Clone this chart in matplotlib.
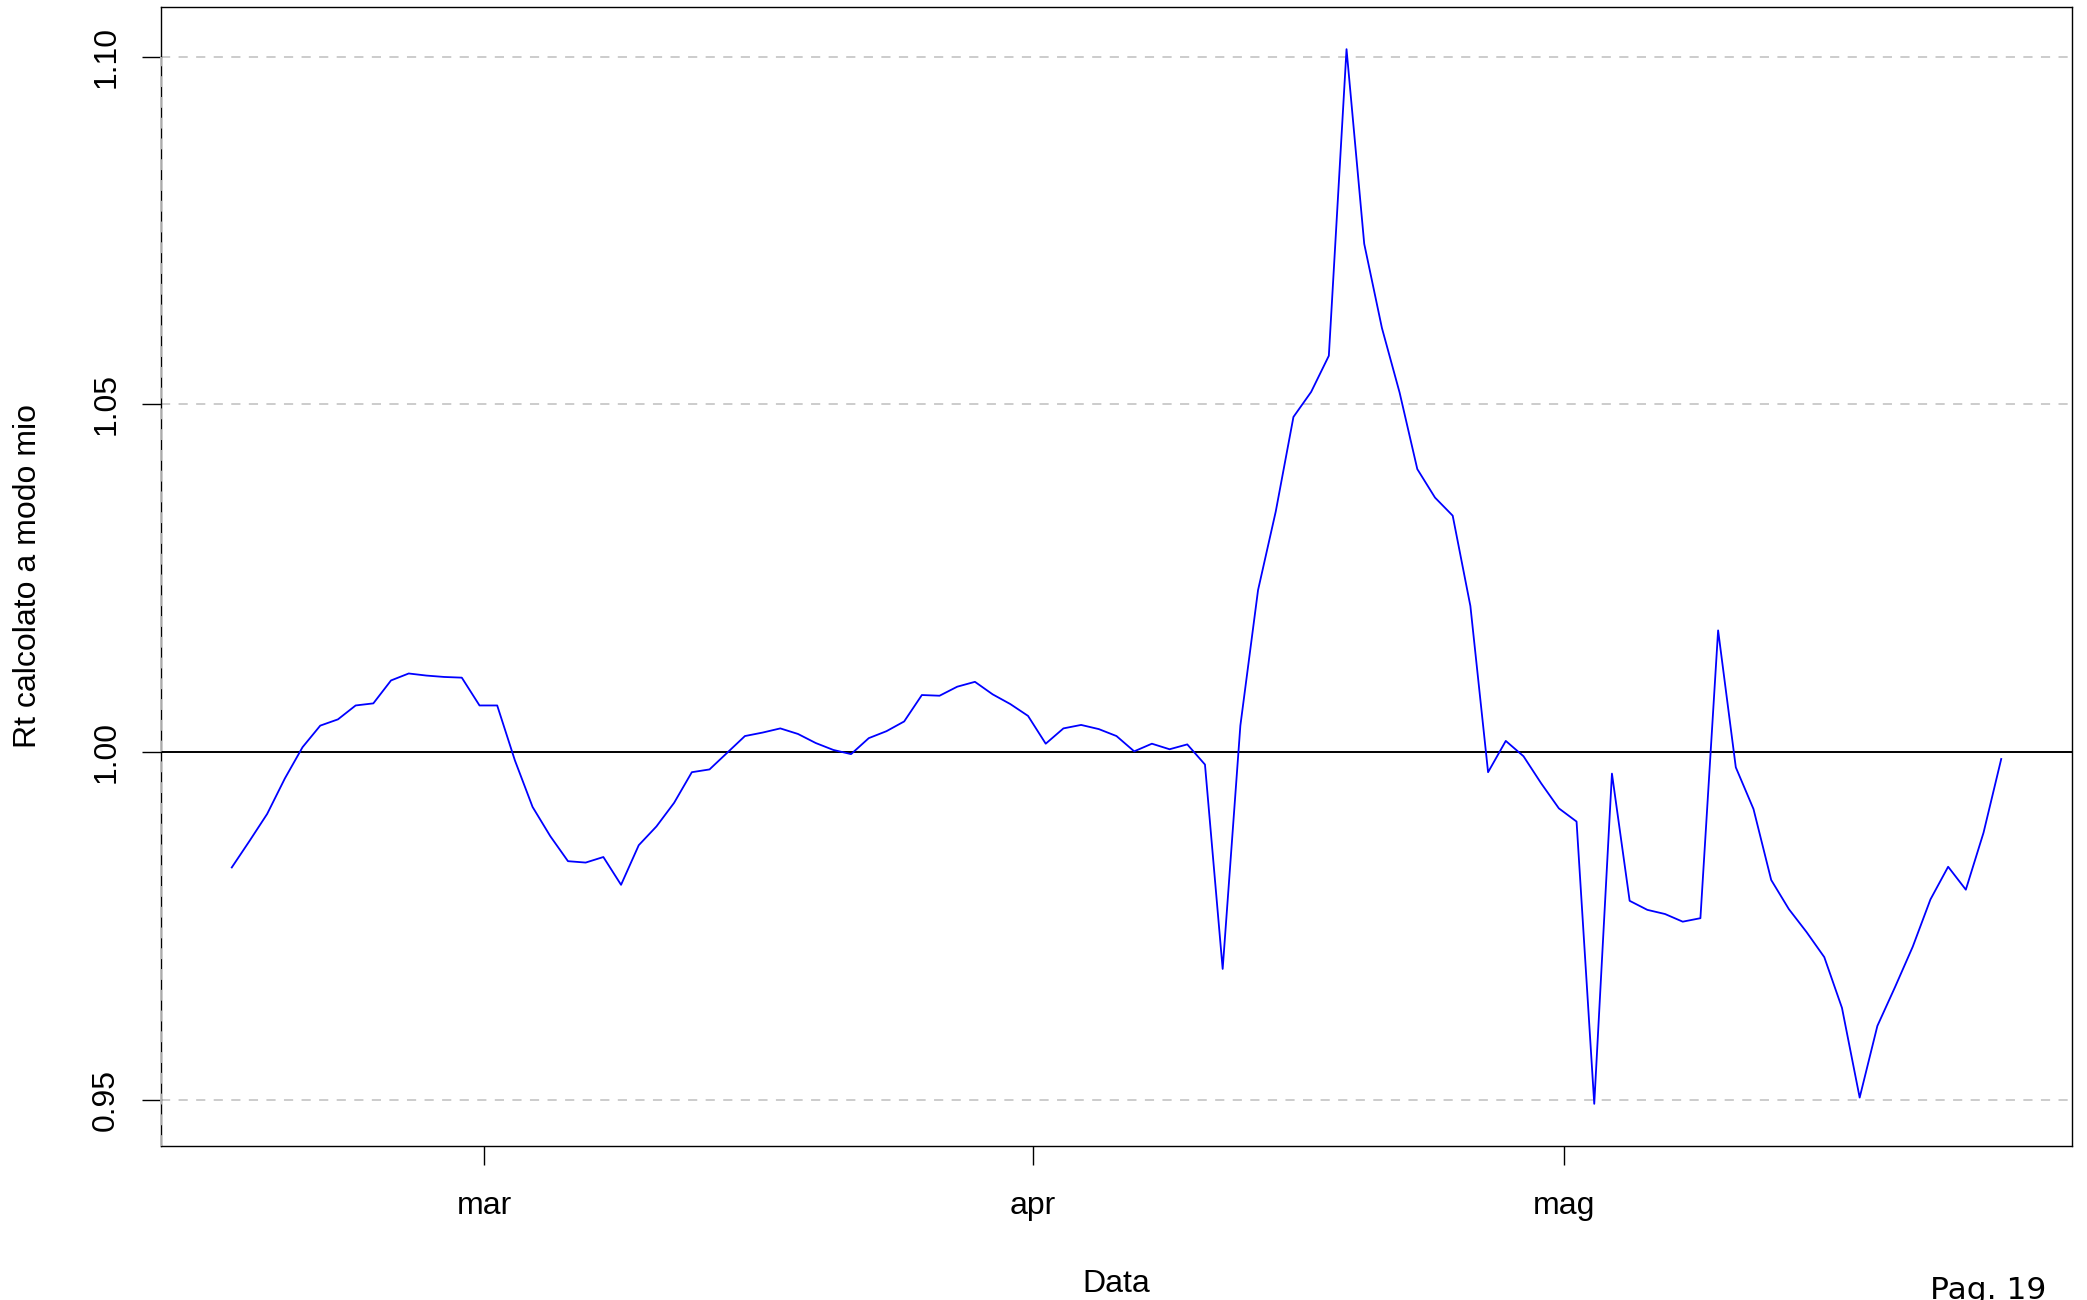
import numpy as np
import matplotlib
matplotlib.use("Agg")
import matplotlib.pyplot as plt
import matplotlib.dates as mdates

plt.rcParams['font.family'] = ['Liberation Sans', 'DejaVu Sans']

# daily Rt values, first day 16 feb 2020
start_day = np.datetime64('2020-02-16')
rt = [0.9834, 0.9872, 0.9911, 0.9962, 1.0007, 1.0038, 1.0047, 1.0067, 1.0070, 1.0103,
      1.0113, 1.0110, 1.0108, 1.0107, 1.0067, 1.0067, 0.9988, 0.9921, 0.9879, 0.9843,
      0.9841, 0.9849, 0.9809, 0.9866, 0.9893, 0.9927, 0.9971, 0.9975, 0.9999, 1.0023,
      1.0028, 1.0034, 1.0026, 1.0013, 1.0003, 0.9997, 1.0020, 1.0030, 1.0044, 1.0082,
      1.0081, 1.0094, 1.0101, 1.0083, 1.0069, 1.0052, 1.0012, 1.0034, 1.0039, 1.0033,
      1.0023, 1.0001, 1.0012, 1.0004, 1.0011, 0.9982, 0.9688, 1.0038, 1.0233, 1.0346,
      1.0482, 1.0518, 1.0570, 1.1011, 1.0731, 1.0610, 1.0517, 1.0407, 1.0366, 1.0340,
      1.0210, 0.9971, 1.0016, 0.9994, 0.9955, 0.9919, 0.9900, 0.9494, 0.9969, 0.9786,
      0.9773, 0.9767, 0.9756, 0.9761, 1.0175, 0.9978, 0.9918, 0.9816, 0.9774, 0.9741,
      0.9705, 0.9632, 0.9503, 0.9606, 0.9662, 0.9720, 0.9788, 0.9835, 0.9802, 0.9884,
      0.9990]
month_ticks = ['2020-03-01T06:30', '2020-04-01T06:30', '2020-05-01T06:30']
month_labels = ['mar', 'apr', 'mag']
y_ticks = [0.95, 1.00, 1.05, 1.10]
grid_levels = [0.95, 1.05, 1.10]

dates = start_day + np.arange(len(rt)).astype('timedelta64[D]')
x = mdates.date2num(dates.astype('datetime64[m]'))
y = np.array(rt)

W, H = 2087, 1300
fig = plt.figure(figsize=(W / 100, H / 100), dpi=100)
ax = fig.add_axes([161 / W, 1 - 1146 / H, (2072 - 161) / W, (1146 - 7) / H])

# R style 4% padding
xr = x.max() - x.min()
yr = y.max() - y.min()
ax.set_xlim(x.min() - 0.04 * xr, x.max() + 0.04 * xr)
ax.set_ylim(y.min() - 0.04 * yr, y.max() + 0.04 * yr)

for g in grid_levels:
    ax.axhline(g, color='#bebebe', lw=1.1, dashes=(6, 5.5), zorder=1)
ax.axhline(1.0, color='black', lw=1.4, zorder=2)
ax.plot(x, y, color='blue', lw=1.3, zorder=3)

# dashed grey line over the left frame
ax.plot([ax.get_xlim()[0]] * 2, [ax.get_ylim()[0], 1.10], color='#bebebe', lw=1.3,
        dashes=(6, 5.5), zorder=5, clip_on=False)

ax.set_xticks(mdates.date2num(np.array(month_ticks, dtype='datetime64[m]')))
ax.set_xticklabels(month_labels)
ax.set_yticks(y_ticks)
ax.set_yticklabels(['%.2f' % v for v in y_ticks])
ax.tick_params(axis='both', length=13.7, width=1.0, labelsize=23, direction='out')
ax.tick_params(axis='x', pad=19)
ax.tick_params(axis='y', pad=15)
plt.setp(ax.get_yticklabels(), rotation=90, va='center')
for s in ax.spines.values():
    s.set_linewidth(1.0)

fig.text(1116.5 / W, 1 - 1284 / H, 'Data', ha='center', va='center', fontsize=23)
fig.text(28 / W, 1 - 576 / H, 'Rt calcolato a modo mio', ha='center', va='center',
         rotation=90, fontsize=23)
fig.text(1930 / W, 1 - 1276 / H, 'Pag. 19', ha='left', va='top', fontsize=22.5,
         family='DejaVu Sans')

fig.savefig('out.png', dpi=100)
